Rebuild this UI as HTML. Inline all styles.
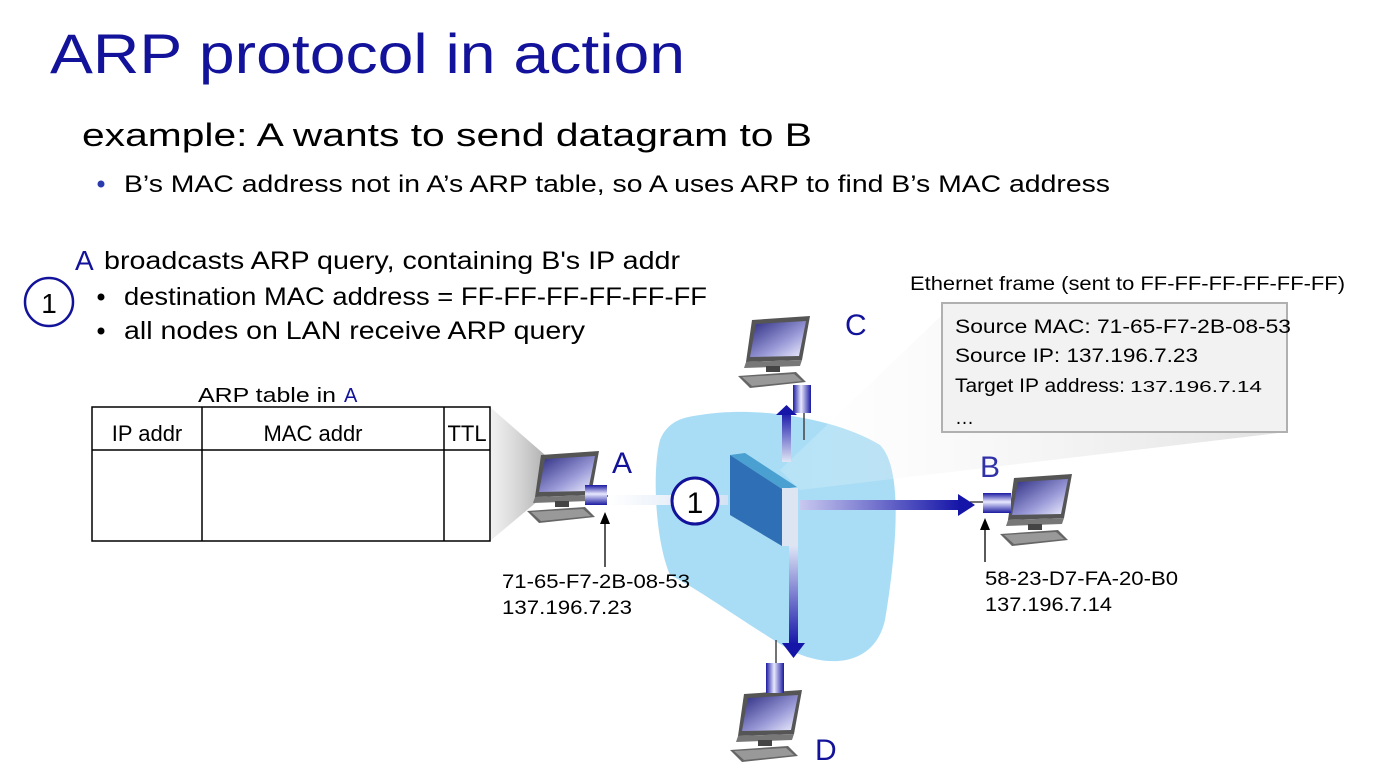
<!DOCTYPE html>
<html><head><meta charset="utf-8"><style>
html,body{margin:0;padding:0;background:#fff;}
svg{display:block;font-family:"Liberation Sans",sans-serif;}
</style></head><body>
<svg width="1380" height="784" viewBox="0 0 1380 784" xmlns="http://www.w3.org/2000/svg">
<defs>
<linearGradient id="scr" x1="0" y1="0" x2="1" y2="1"><stop offset="0" stop-color="#2a2a80"/><stop offset="0.6" stop-color="#9a9ad8"/><stop offset="1" stop-color="#f0f0ff"/></linearGradient>
<linearGradient id="cyl" x1="0" y1="0" x2="0" y2="1"><stop offset="0" stop-color="#1a1aa0"/><stop offset="0.45" stop-color="#e8e8ff"/><stop offset="1" stop-color="#1a1aa0"/></linearGradient>
<linearGradient id="cylv" x1="0" y1="0" x2="1" y2="0"><stop offset="0" stop-color="#1a1aa0"/><stop offset="0.45" stop-color="#e8e8ff"/><stop offset="1" stop-color="#1a1aa0"/></linearGradient>
<linearGradient id="arR" x1="0" y1="0" x2="1" y2="0"><stop offset="0" stop-color="#c8c8f0"/><stop offset="1" stop-color="#1515a8"/></linearGradient>
<linearGradient id="arD" x1="0" y1="0" x2="0" y2="1"><stop offset="0" stop-color="#e0e6f6"/><stop offset="1" stop-color="#1515a8"/></linearGradient>
<linearGradient id="arU" x1="0" y1="1" x2="0" y2="0"><stop offset="0" stop-color="#e0e6f6"/><stop offset="1" stop-color="#1515a8"/></linearGradient>
<linearGradient id="arL" x1="0" y1="0" x2="1" y2="0"><stop offset="0" stop-color="#ffffff"/><stop offset="1" stop-color="#d4e2f4"/></linearGradient>
<linearGradient id="beam1" x1="1" y1="0" x2="0" y2="0"><stop offset="0" stop-color="#b0b0b0"/><stop offset="1" stop-color="#e8e8e8" stop-opacity="0.6"/></linearGradient>
<linearGradient id="beam2" x1="0" y1="0" x2="1" y2="0"><stop offset="0" stop-color="#ffffff" stop-opacity="0.3"/><stop offset="1" stop-color="#c8c8c8"/></linearGradient>
<g id="pc">
<polygon points="14,0 72,-4 64,40 8,42" fill="#555"/>
<polygon points="18,4 68,1 61,36 12,37" fill="url(#scr)"/>
<polygon points="8,42 64,40 62,46 6,48" fill="#777"/>
<rect x="28" y="46" width="14" height="6" fill="#444"/>
<polygon points="0,56 58,52 68,62 12,68" fill="#666"/>
<polygon points="4,57 56,54 64,61 14,66" fill="#999"/>
</g>
</defs>

<text x="50" y="73" font-size="56" fill="#12129a" textLength="635" lengthAdjust="spacingAndGlyphs">ARP protocol in action</text>
<text x="82" y="146" font-size="32" fill="#000" textLength="730" lengthAdjust="spacingAndGlyphs">example: A wants to send datagram to B</text>
<circle cx="101" cy="184" r="3.5" fill="#2a3bb0"/>
<text x="124" y="192" font-size="24" fill="#000" textLength="986" lengthAdjust="spacingAndGlyphs">B’s MAC address not in A’s ARP table, so A uses ARP to find B’s MAC address</text>

<text x="75" y="270" font-size="28" fill="#12129a">A</text>
<text x="104" y="269" font-size="25" fill="#000" textLength="576" lengthAdjust="spacingAndGlyphs">broadcasts ARP query, containing B's IP addr</text>
<circle cx="49" cy="302" r="24" fill="none" stroke="#12129a" stroke-width="2.5"/>
<text x="49" y="313" font-size="28" text-anchor="middle" fill="#000">1</text>
<circle cx="101" cy="297" r="3.5" fill="#000"/>
<text x="124" y="305" font-size="25" fill="#000" textLength="583" lengthAdjust="spacingAndGlyphs">destination MAC address = FF-FF-FF-FF-FF-FF</text>
<circle cx="101" cy="331" r="3.5" fill="#000"/>
<text x="124" y="339" font-size="25" fill="#000" textLength="461" lengthAdjust="spacingAndGlyphs">all nodes on LAN receive ARP query</text>

<!-- ARP table -->
<text x="198" y="402" font-size="20" fill="#000" textLength="138" lengthAdjust="spacingAndGlyphs">ARP table in</text>
<text x="344" y="402" font-size="20" fill="#12129a">A</text>
<polygon points="490,407 545,455 545,495 490,541" fill="url(#beam1)"/>
<rect x="92" y="407" width="398" height="134" fill="#fff" stroke="#000" stroke-width="1.5"/>
<line x1="92" y1="450" x2="490" y2="450" stroke="#000" stroke-width="1.5"/>
<line x1="202" y1="407" x2="202" y2="541" stroke="#000" stroke-width="1.5"/>
<line x1="444" y1="407" x2="444" y2="541" stroke="#000" stroke-width="1.5"/>
<text x="147" y="441" font-size="22" text-anchor="middle">IP addr</text>
<text x="313" y="441" font-size="22" text-anchor="middle">MAC addr</text>
<text x="467" y="441" font-size="22" text-anchor="middle">TTL</text>

<!-- cloud -->
<path d="M700,415 C760,405 840,420 880,445 C905,470 895,560 885,620 C875,665 830,670 790,650 C740,620 700,590 670,575 C655,540 652,470 660,440 C668,420 685,417 700,415 Z" fill="#a9ddf5"/>

<!-- beam to frame box -->
<polygon points="945,312 945,432 1287,432 800,490 780,470" fill="url(#beam2)" opacity="0.55"/>

<!-- frame box -->
<text x="910" y="290" font-size="19" fill="#000" textLength="435" lengthAdjust="spacingAndGlyphs">Ethernet frame (sent to FF-FF-FF-FF-FF-FF)</text>
<rect x="942" y="303" width="345" height="129" fill="#f2f2f2" stroke="#b0b0b0" stroke-width="2"/>
<text x="955" y="333" font-size="19" textLength="336" lengthAdjust="spacingAndGlyphs">Source MAC:  71-65-F7-2B-08-53</text>
<text x="955" y="362" font-size="19" textLength="243" lengthAdjust="spacingAndGlyphs">Source IP: 137.196.7.23</text>
<text x="955" y="392" font-size="19" textLength="170" lengthAdjust="spacingAndGlyphs">Target IP address:</text>
<text x="1130" y="392" font-size="16" textLength="132" lengthAdjust="spacingAndGlyphs">137.196.7.14</text>
<text x="955" y="424" font-size="19">…</text>

<!-- connection lines -->
<line x1="605" y1="496" x2="670" y2="496" stroke="#444" stroke-width="1.5"/>
<rect x="608" y="495" width="120" height="10" fill="url(#arL)"/>
<line x1="804" y1="413" x2="804" y2="440" stroke="#444" stroke-width="1.5"/>
<line x1="776" y1="640" x2="776" y2="665" stroke="#444" stroke-width="1.5"/>
<line x1="970" y1="502" x2="985" y2="502" stroke="#444" stroke-width="1.5"/>

<!-- arrows -->
<rect x="782" y="412" width="9" height="50" fill="url(#arU)"/>
<polygon points="776,415 797,415 786.5,405" fill="#1515a8"/>
<rect x="800" y="500" width="160" height="10" fill="url(#arR)"/>
<polygon points="958,494 975,505 958,516" fill="#1515a8"/>
<rect x="789" y="545" width="9" height="100" fill="url(#arD)"/>
<polygon points="782,643 805,643 793.5,658" fill="#1515a8"/>

<!-- switch -->
<polygon points="730,455 745,453 797,487 782,489" fill="#4aa0d0"/>
<polygon points="730,455 782,489 782,546 730,515" fill="#2f6fb6"/>
<rect x="782" y="488" width="16" height="58" fill="#dde4f2"/>

<circle cx="695" cy="501" r="23" fill="#fff" stroke="#12129a" stroke-width="3"/>
<text x="695" y="513" font-size="30" text-anchor="middle">1</text>

<!-- computers -->
<use href="#pc" x="527" y="455"/>
<rect x="585" y="485" width="22" height="20" fill="url(#cyl)"/>
<use href="#pc" x="738" y="320"/>
<rect x="793" y="385" width="18" height="28" fill="url(#cylv)"/>
<use href="#pc" x="1000" y="478"/>
<rect x="983" y="493" width="28" height="20" fill="url(#cyl)"/>
<use href="#pc" x="730" y="694"/>
<rect x="766" y="663" width="18" height="30" fill="url(#cylv)"/>

<!-- small pointers -->
<line x1="605" y1="567" x2="605" y2="520" stroke="#000" stroke-width="1.3"/>
<polygon points="600,524 610,524 605,512" fill="#000"/>
<line x1="985" y1="562" x2="985" y2="528" stroke="#000" stroke-width="1.3"/>
<polygon points="980,530 990,530 985,518" fill="#000"/>

<text x="502" y="588" font-size="19" textLength="188" lengthAdjust="spacingAndGlyphs">71-65-F7-2B-08-53</text>
<text x="502" y="614" font-size="19" textLength="130" lengthAdjust="spacingAndGlyphs">137.196.7.23</text>
<text x="985" y="585" font-size="19" textLength="193" lengthAdjust="spacingAndGlyphs">58-23-D7-FA-20-B0</text>
<text x="985" y="611" font-size="19" textLength="127" lengthAdjust="spacingAndGlyphs">137.196.7.14</text>

<text x="612" y="473" font-size="30" fill="#12129a">A</text>
<text x="845" y="335" font-size="30" fill="#12129a">C</text>
<text x="980" y="477" font-size="30" fill="#3030a8">B</text>
<text x="815" y="760" font-size="30" fill="#12129a">D</text>
</svg>
</body></html>
